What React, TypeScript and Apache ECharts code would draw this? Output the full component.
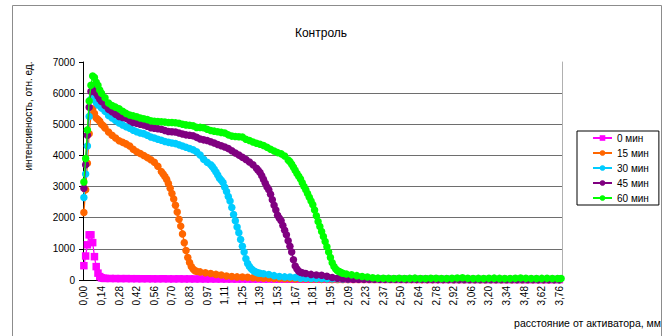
import React, { useEffect, useRef } from "react";
import * as echarts from "echarts";

// distance from activator, mm (one category per sample)
const STEP_MM = 0.013912;
const CATEGORY_COUNT = 272;
const CATEGORIES: string[] = Array.from({ length: CATEGORY_COUNT }, (_, i) =>
  (i * STEP_MM).toFixed(2).replace(".", ",")
);

const TITLE = "Контроль";
const Y_NAME = "интенсивность, отн. ед.";
const X_NAME = "расстояние от активатора, мм";
const SERIES_NAMES = ["0 мин", "15 мин", "30 мин", "45 мин", "60 мин"];
const COLORS = ["#FF00FF", "#FF6600", "#00CCFF", "#800080", "#00FF00"];

// [category index, intensity]
const MIN_0: [number, number][] = [
  [0, 460], [1, 770], [2, 1130], [3, 1450], [4, 1450], [5, 1200], [6, 750], [7, 430], [8, 220], [9, 110], [10, 70], [11, 55], [12, 50],
  [15, 48], [18, 46], [21, 44], [24, 45], [27, 42], [30, 42], [33, 40], [36, 41], [39, 39], [42, 38], [45, 40], [48, 37], [51, 36],
  [54, 38], [57, 35], [60, 36], [63, 34], [66, 35], [69, 33], [72, 34], [75, 32], [78, 33], [81, 31], [84, 32], [87, 30], [90, 31],
  [93, 30], [96, 29], [99, 30], [102, 28], [105, 29], [108, 28], [111, 27], [114, 28], [117, 26], [120, 27], [123, 26], [126, 25],
  [129, 26], [132, 25], [135, 24], [138, 25], [141, 24], [144, 23], [147, 24], [150, 23], [153, 22], [156, 23], [159, 22], [162, 21],
  [165, 22], [168, 21], [171, 20], [174, 21], [177, 20], [180, 20], [183, 19], [186, 20], [189, 19], [192, 18], [195, 19], [198, 18],
  [201, 18], [204, 17], [207, 18], [210, 17], [213, 17], [216, 16], [219, 17], [222, 16], [225, 16], [228, 15], [231, 16], [234, 15],
  [237, 15], [240, 14], [243, 15], [246, 14], [249, 14], [252, 13], [255, 14], [258, 13], [261, 13], [264, 12], [267, 13], [270, 12],
];

const MIN_15: [number, number][] = [
  [0, 2170], [1, 2900], [2, 3750], [3, 4700], [4, 5300], [5, 5500], [6, 5350], [7, 5200], [8, 5150], [9, 5100], [10, 5000],
  [11, 4950], [12, 4880], [14, 4750], [16, 4650], [18, 4560], [20, 4470], [22, 4420], [24, 4370], [26, 4300], [28, 4200],
  [30, 4120], [32, 4060], [34, 4000], [36, 3930], [38, 3860], [40, 3780], [42, 3650], [44, 3480], [45, 3400], [46, 3320],
  [47, 3230], [48, 3100], [49, 2950], [50, 2780], [51, 2600], [52, 2400], [53, 2180], [54, 1950], [55, 1730], [56, 1480],
  [57, 1200], [58, 950], [59, 720], [60, 560], [61, 430], [62, 350], [63, 300], [64, 280], [66, 260], [69, 230], [72, 210],
  [75, 180], [78, 160], [81, 130], [84, 115], [87, 100], [90, 95], [93, 85], [96, 75], [99, 65], [102, 60], [105, 55],
  [108, 50], [111, 45], [114, 40], [117, 38], [120, 35], [123, 32], [126, 30], [129, 25], [132, 22], [135, 20], [138, 20],
  [141, 19], [144, 19], [147, 18], [150, 18], [153, 17], [156, 17], [159, 17], [162, 16], [165, 16], [168, 16], [171, 15],
  [174, 15], [177, 15], [180, 14], [183, 14], [186, 14], [189, 13], [192, 13], [195, 13], [198, 12], [201, 12], [204, 12],
  [207, 12], [210, 11], [213, 11], [216, 11], [219, 11], [222, 10], [225, 10], [228, 10], [231, 10], [234, 10], [237, 9],
  [240, 9], [243, 9], [246, 9], [249, 9], [252, 8], [255, 8], [258, 8], [261, 8], [264, 8], [267, 8], [270, 8],
];

const MIN_30: [number, number][] = [
  [0, 2650], [1, 3400], [2, 4300], [3, 5250], [4, 5800], [5, 5900], [6, 5800], [7, 5700], [8, 5620], [10, 5520], [12, 5420],
  [14, 5280], [16, 5200], [18, 5120], [20, 5040], [22, 4980], [24, 4920], [26, 4870], [28, 4810], [30, 4760], [32, 4720],
  [34, 4700], [36, 4650], [38, 4590], [40, 4560], [42, 4520], [44, 4490], [46, 4450], [48, 4420], [50, 4400], [52, 4380],
  [54, 4340], [56, 4300], [58, 4260], [60, 4220], [62, 4180], [64, 4120], [66, 4010], [68, 3880], [70, 3780], [72, 3700],
  [73, 3640], [74, 3560], [75, 3470], [76, 3370], [77, 3270], [78, 3200], [79, 3130], [80, 2980], [81, 2840], [82, 2680],
  [83, 2540], [84, 2330], [85, 2100], [86, 1900], [87, 1700], [88, 1520], [89, 1300], [90, 1080], [91, 900], [92, 680],
  [93, 530], [94, 430], [95, 360], [96, 310], [97, 270], [98, 245], [99, 225], [100, 215], [102, 200], [105, 175],
  [108, 140], [111, 115], [114, 100], [117, 95], [120, 80], [123, 60], [126, 55], [129, 50], [132, 45], [135, 45],
  [138, 42], [141, 40], [144, 38], [147, 36], [150, 35], [153, 33], [156, 32], [159, 31], [162, 30], [165, 29], [168, 28],
  [171, 27], [174, 26], [177, 25], [180, 25], [183, 24], [186, 23], [189, 23], [192, 22], [195, 22], [198, 21], [201, 21],
  [204, 20], [207, 20], [210, 19], [213, 19], [216, 18], [219, 18], [222, 18], [225, 17], [228, 17], [231, 17], [234, 16],
  [237, 16], [240, 16], [243, 15], [246, 15], [249, 15], [252, 15], [255, 14], [258, 14], [261, 14], [264, 14], [267, 13], [270, 13],
];

const MIN_45: [number, number][] = [
  [0, 2950], [1, 3700], [2, 4650], [3, 5550], [4, 6050], [5, 6200], [6, 6100], [7, 6000], [8, 5900], [9, 5800], [10, 5730],
  [12, 5600], [14, 5480], [16, 5400], [18, 5320], [20, 5250], [22, 5220], [24, 5190], [26, 5120], [28, 5060], [30, 5030],
  [32, 5000], [34, 4980], [36, 4940], [38, 4890], [40, 4870], [42, 4860], [44, 4840], [46, 4800], [48, 4770], [50, 4760],
  [52, 4750], [54, 4720], [56, 4690], [58, 4660], [60, 4650], [62, 4630], [64, 4580], [66, 4530], [68, 4500], [70, 4480],
  [72, 4440], [74, 4400], [76, 4350], [78, 4310], [80, 4270], [82, 4220], [84, 4150], [86, 4080], [88, 4010], [90, 3940],
  [92, 3870], [94, 3790], [96, 3700], [98, 3590], [99, 3520], [100, 3450], [101, 3350], [102, 3230], [103, 3110], [104, 2990],
  [105, 2900], [106, 2750], [107, 2580], [108, 2400], [109, 2250], [110, 2080], [111, 1980], [112, 1900], [113, 1750],
  [114, 1600], [115, 1450], [116, 1260], [117, 1080], [118, 900], [119, 650], [120, 450], [121, 350], [122, 280], [123, 250],
  [124, 230], [126, 210], [129, 180], [132, 160], [135, 150], [138, 120], [141, 80], [144, 55], [147, 40], [150, 30],
  [153, 28], [156, 27], [159, 26], [162, 25], [165, 25], [168, 24], [171, 23], [174, 23], [177, 22], [180, 22], [183, 21],
  [186, 21], [189, 20], [192, 20], [195, 19], [198, 19], [201, 19], [204, 18], [207, 18], [210, 18], [213, 17], [216, 17],
  [219, 17], [222, 16], [225, 16], [228, 16], [231, 16], [234, 15], [237, 15], [240, 15], [243, 15], [246, 14], [249, 14],
  [252, 14], [255, 14], [258, 13], [261, 13], [264, 13], [267, 13], [270, 13],
];

const MIN_60: [number, number][] = [
  [0, 3150], [1, 3900], [2, 4820], [3, 5750], [4, 6250], [5, 6550], [6, 6500], [7, 6350], [8, 6250], [9, 6100], [10, 6000],
  [12, 5850], [14, 5680], [16, 5600], [18, 5550], [20, 5500], [22, 5420], [24, 5350], [26, 5300], [28, 5270], [30, 5240],
  [32, 5200], [34, 5180], [36, 5150], [38, 5110], [40, 5100], [42, 5090], [44, 5080], [46, 5070], [48, 5060], [50, 5060],
  [52, 5050], [54, 5030], [56, 5000], [58, 4980], [60, 4970], [62, 4950], [64, 4900], [66, 4900], [68, 4890], [70, 4840],
  [72, 4800], [74, 4780], [76, 4760], [78, 4740], [80, 4720], [82, 4660], [84, 4620], [86, 4610], [88, 4600], [90, 4590],
  [92, 4520], [94, 4480], [96, 4430], [98, 4390], [100, 4360], [102, 4320], [104, 4260], [106, 4200], [108, 4140], [110, 4090],
  [112, 4050], [114, 3980], [116, 3850], [117, 3800], [118, 3720], [119, 3620], [120, 3520], [121, 3420], [122, 3330],
  [123, 3240], [124, 3120], [125, 3000], [126, 2900], [127, 2780], [128, 2660], [129, 2540], [130, 2420], [131, 2250],
  [132, 2060], [133, 1880], [134, 1720], [135, 1560], [136, 1400], [137, 1240], [138, 1070], [139, 900], [140, 720],
  [141, 550], [142, 430], [143, 350], [144, 300], [145, 270], [146, 240], [147, 215], [149, 190], [152, 165], [155, 140],
  [158, 115], [161, 95], [164, 75], [167, 60], [170, 55], [173, 52], [176, 50], [179, 55], [182, 48], [185, 52], [188, 60],
  [191, 50], [194, 47], [197, 55], [200, 58], [203, 50], [206, 48], [209, 53], [212, 62], [215, 70], [218, 58], [221, 50],
  [224, 52], [227, 48], [230, 55], [233, 60], [236, 52], [239, 48], [242, 50], [245, 56], [248, 62], [251, 55], [254, 50],
  [257, 48], [260, 52], [263, 55], [266, 50], [269, 48], [271, 45],
];

const SERIES_DATA = [MIN_0, MIN_15, MIN_30, MIN_45, MIN_60];
const Y_MIN = 0;
const Y_MAX = 7000;
const Y_STEP = 1000;

const FONT = "'Liberation Sans', Arial, sans-serif";

export default function App() {
  const ref = useRef<HTMLDivElement>(null);

  useEffect(() => {
    document.body.style.margin = "0";
    if (!ref.current) return;
    const chart = echarts.init(ref.current, null, { renderer: "svg" });

    const series = SERIES_DATA.map((data, k) => ({
      name: SERIES_NAMES[k],
      type: "line",
      data,
      symbol: k === 0 ? "rect" : "circle",
      symbolSize: k === 0 ? 7.5 : 7.5,
      showAllSymbol: true,
      silent: true,
      itemStyle: { color: COLORS[k] },
      lineStyle: { color: COLORS[k], width: 1.3 },
      emphasis: { disabled: true },
      z: 2 + k,
    }));

    chart.setOption({
      animation: false,
      backgroundColor: "#fff",
      textStyle: { fontFamily: FONT },
      grid: { left: 83, right: 105, top: 62, bottom: 56, containLabel: false },
      legend: {
        orient: "vertical",
        left: 577,
        top: 131,
        data: SERIES_NAMES,
        itemWidth: 19,
        itemHeight: 7,
        itemGap: 5,
        padding: [2, 10, 2, 15],
        borderColor: "#000",
        borderWidth: 1,
        textStyle: { fontSize: 10, color: "#000", fontFamily: FONT },
        selectedMode: false,
      },
      xAxis: {
        type: "category",
        data: CATEGORIES,
        boundaryGap: true,
        axisLine: { lineStyle: { color: "#000", width: 1 } },
        axisTick: { interval: 0, length: 3, lineStyle: { color: "#000" } },
        axisLabel: {
          interval: 9,
          rotate: 90,
          fontSize: 10,
          color: "#000",
          margin: 6,
          fontFamily: FONT,
        },
        splitLine: { show: false },
      },
      yAxis: [
        {
          type: "value",
          min: Y_MIN,
          max: Y_MAX,
          interval: Y_STEP,
          axisLine: { show: true, lineStyle: { color: "#000", width: 1 } },
          axisTick: { show: true, length: 4, lineStyle: { color: "#000" } },
          axisLabel: {
            fontSize: 10,
            color: "#000",
            margin: 8,
            fontFamily: FONT,
            formatter: (v: number) => String(v),
          },
          splitLine: { show: true, showMaxLine: false, lineStyle: { color: "#6e6e6e", width: 1 } },
        },
        {
          type: "value",
          position: "right",
          min: Y_MIN,
          max: Y_MAX,
          interval: Y_STEP,
          axisLine: { show: true, lineStyle: { color: "#b0b0b0", width: 1 } },
          axisTick: { show: false },
          axisLabel: { show: false },
          splitLine: { show: false },
        },
      ],
      series,
      graphic: [
        {
          type: "rect",
          shape: { x: 12.5, y: 5.5, width: 649, height: 340 },
          style: { fill: "none", stroke: "#8c8c8c", lineWidth: 1 },
          silent: true,
        },
        {
          type: "text",
          x: 321,
          y: 33,
          style: {
            text: TITLE,
            fontSize: 12,
            fontFamily: FONT,
            fill: "#000",
            align: "center",
            verticalAlign: "middle",
          },
          silent: true,
        },
        {
          type: "text",
          x: 28,
          y: 116,
          rotation: Math.PI / 2,
          style: {
            text: Y_NAME,
            fontSize: 10,
            fontFamily: FONT,
            fill: "#000",
            align: "center",
            verticalAlign: "middle",
          },
          silent: true,
        },
        {
          type: "text",
          x: 661,
          y: 323,
          style: {
            text: X_NAME,
            fontSize: 10.5,
            fontFamily: FONT,
            fill: "#000",
            align: "right",
            verticalAlign: "middle",
          },
          silent: true,
        },
      ],
    });

    return () => chart.dispose();
  }, []);

  return <div ref={ref} style={{ width: 667, height: 336 }} />;
}
